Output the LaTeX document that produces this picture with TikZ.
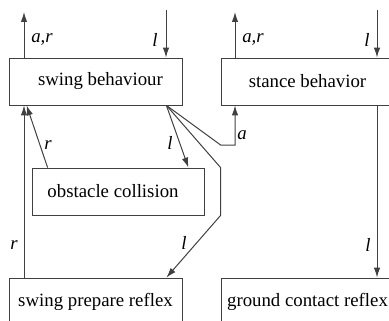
\documentclass[tikz,border=0pt]{standalone}
\usepackage{fontspec}
\setmainfont{Liberation Serif}
\newfontfamily\tmsfont{Liberation Serif}
\usetikzlibrary{arrows.meta}

\begin{document}
\begin{tikzpicture}[
x=0.5pt, y=-0.5pt,
font=\tmsfont\fontsize{9.4}{11}\selectfont,
behbox/.style={
rectangle,
draw=black!75,
minimum width=86.5pt,
minimum height=23.5pt,
inner sep=0 pt,
},
sig/.style={draw=black!75, line width=0.5pt},
tip/.style={-{Latex[length=5pt, width=3.2pt]}},
lab/.style={font=\tmsfont\fontsize{9.4}{11}\selectfont\itshape, inner sep=0 pt},
]
\useasboundingbox (0,0) rectangle (389,320);
\clip (0,0) rectangle (389,320);

% behaviour boxes
\node [behbox] at (95.5,81.5) (swing) {\hspace*{5pt}swing behaviour};
\node [behbox] at (307.5,81.5) (stance) {stance behavior};
\node [behbox, minimum width=86pt] at (118,191.5) (obst) {obstacle collision\hspace*{5pt}};
\node [behbox] at (95.5,301.5) (prep) {swing prepare reflex};
\node [behbox] at (307.5,301.5) (ground) {ground contact reflex};

% free ends
\path
(24,12) coordinate(swout)
(166,10) coordinate(swin)
(235,12) coordinate(stout)
(377,10) coordinate(stin)
;

% outgoing and incoming signals
\draw [sig, tip] (swing.north -| swout) -- (swout);
\draw [sig, tip] (swin) -- (swin |- swing.north);
\draw [sig, tip] (stance.north -| stout) -- (stout);
\draw [sig, tip] (stin) -- (stin |- stance.north);

% fan out of swing behaviour
\coordinate (fan) at ([xshift=-8pt]swing.south east);
\draw [sig, tip] (fan) -- ([xshift=-8pt]obst.north east);
\draw [sig, tip] (fan) -- (stance.west |- 0,145) -| (stance.south -| stout);
\draw [sig, tip] (fan) -- (stance.west |- obst.north) -- (stance.west |- obst.south)
-- ([xshift=-8pt]prep.north east);

% back to swing behaviour
\draw [sig, tip] (prep.north -| swout) -- (swing.south -| swout);
\draw [sig, tip] ([xshift=8pt]obst.north west) -- ([xshift=9pt]swing.south west);

% stance to ground contact
\draw [sig, tip] (stance.south -| stin) -- (ground.north -| stin);

% labels
\path[every node/.style={lab}]
(42,40) node {a,r}
(155,40) node {l}
(253,40) node {a,r}
(367,40) node {l}
(242,135) node {a}
(170,143) node {l}
(48,145) node {r}
(14,245) node {r}
(184,243) node {l}
(368,245) node {l}
;

\end{tikzpicture}
\end{document}
